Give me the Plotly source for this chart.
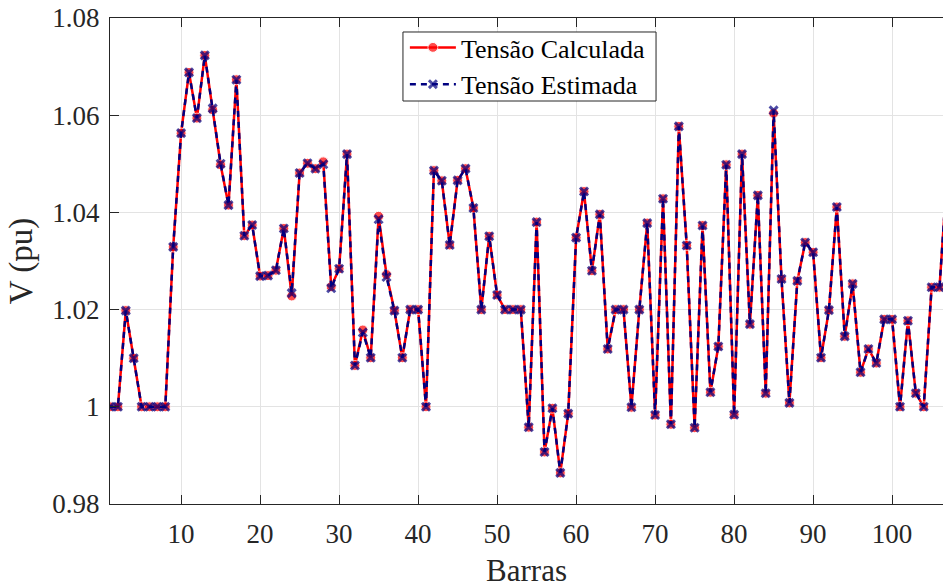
import plotly.graph_objects as go

barras = list(range(1, 108))

tensao_calculada = [
    1.0000, 1.0000, 1.0198, 1.0100, 1.0000, 1.0000, 1.0000, 1.0000, 1.0329, 1.0563,
    1.0688, 1.0594, 1.0723, 1.0611, 1.0498, 1.0415, 1.0673, 1.0352, 1.0374, 1.0269,
    1.0270, 1.0281, 1.0367, 1.0228, 1.0481, 1.0501, 1.0490, 1.0504, 1.0247, 1.0284,
    1.0520, 1.0085, 1.0158, 1.0101, 1.0392, 1.0272, 1.0198, 1.0101, 1.0200, 1.0200,
    1.0000, 1.0486, 1.0465, 1.0333, 1.0466, 1.0490, 1.0409, 1.0200, 1.0351, 1.0230,
    1.0200, 1.0200, 1.0200, 0.9958, 1.0380, 0.9907, 0.9997, 0.9864, 0.9986, 1.0348,
    1.0443, 1.0280, 1.0396, 1.0119, 1.0200, 1.0200, 0.9999, 1.0200, 1.0378, 0.9983,
    1.0428, 0.9964, 1.0577, 1.0332, 0.9957, 1.0373, 1.0030, 1.0124, 1.0498, 0.9984,
    1.0520, 1.0170, 1.0435, 1.0028, 1.0604, 1.0263, 1.0008, 1.0259, 1.0338, 1.0318,
    1.0101, 1.0199, 1.0411, 1.0145, 1.0253, 1.0071, 1.0119, 1.0090, 1.0180, 1.0180,
    1.0000, 1.0177, 1.0028, 1.0000, 1.0246, 1.0246, 1.0490,
]

tensao_estimada = [
    1.0000, 1.0000, 1.0198, 1.0100, 1.0000, 1.0000, 1.0000, 1.0000, 1.0329, 1.0563,
    1.0688, 1.0594, 1.0723, 1.0614, 1.0500, 1.0415, 1.0673, 1.0352, 1.0374, 1.0269,
    1.0270, 1.0281, 1.0367, 1.0234, 1.0481, 1.0501, 1.0490, 1.0499, 1.0244, 1.0284,
    1.0520, 1.0085, 1.0153, 1.0101, 1.0386, 1.0267, 1.0198, 1.0101, 1.0200, 1.0200,
    1.0000, 1.0486, 1.0465, 1.0333, 1.0466, 1.0490, 1.0409, 1.0200, 1.0351, 1.0230,
    1.0200, 1.0200, 1.0200, 0.9958, 1.0380, 0.9907, 0.9997, 0.9864, 0.9986, 1.0348,
    1.0443, 1.0280, 1.0396, 1.0119, 1.0200, 1.0200, 0.9999, 1.0200, 1.0378, 0.9983,
    1.0428, 0.9964, 1.0577, 1.0332, 0.9957, 1.0373, 1.0030, 1.0124, 1.0498, 0.9984,
    1.0520, 1.0170, 1.0435, 1.0028, 1.0610, 1.0263, 1.0008, 1.0259, 1.0338, 1.0318,
    1.0101, 1.0199, 1.0411, 1.0145, 1.0253, 1.0071, 1.0119, 1.0090, 1.0180, 1.0180,
    1.0000, 1.0177, 1.0028, 1.0000, 1.0246, 1.0246, 1.0490,
]

x_ticks = [10, 20, 30, 40, 50, 60, 70, 80, 90, 100]
y_ticks = [0.98, 1.00, 1.02, 1.04, 1.06, 1.08]
y_tick_labels = ["0.98", "1", "1.02", "1.04", "1.06", "1.08"]

FONT = "Liberation Serif, Times New Roman, serif"
AXC = "#262626"
GRID = "#e3e3e3"
X_MAX = 106.44

# markers only for buses inside the visible window (the last bus lies past the cropped edge)
size_calc = [10 if b <= X_MAX else 0 for b in barras]
size_est = [8 if b <= X_MAX else 0 for b in barras]

fig = go.Figure()
fig.add_trace(go.Scatter(
    x=barras, y=tensao_calculada, name="Tensão Calculada",
    mode="lines+markers",
    line=dict(color="#ff0000", width=2.5),
    marker=dict(symbol="circle", size=size_calc, color="#ff0000"),
))
fig.add_trace(go.Scatter(
    x=barras, y=tensao_estimada, name="Tensão Estimada",
    mode="lines+markers",
    line=dict(color="#000080", width=2.5, dash="6px,5px"),
    marker=dict(symbol="x-thin", size=size_est, color="#000080",
                line=dict(color="#000080", width=3)),
))

# legend frame (drawn as a paper-space box behind the borderless legend)
fig.add_shape(
    type="rect", xref="paper", yref="paper",
    x0=0.3517, x1=0.6555, y0=0.8292, y1=0.9712,
    fillcolor="white", line=dict(color=AXC, width=1), layer="above",
)

fig.update_layout(
    width=943, height=588,
    margin=dict(l=110, r=0, t=18, b=84),
    paper_bgcolor="white", plot_bgcolor="white",
    font=dict(family=FONT, size=27, color=AXC),
    showlegend=True,
    legend=dict(
        x=0.354, y=0.9877, xanchor="left", yanchor="top",
        bgcolor="rgba(0,0,0,0)", borderwidth=0,
        font=dict(family=FONT, size=26, color="black"),
        tracegroupgap=0, itemwidth=46,
    ),
    xaxis=dict(
        range=[1, X_MAX], tickvals=x_ticks,
        ticks="inside", ticklen=9, tickcolor=AXC, tickwidth=1,
        showline=True, linecolor=AXC, linewidth=1, mirror="ticks",
        showgrid=True, gridcolor=GRID, gridwidth=1, zeroline=False,
        tickfont=dict(family=FONT, size=27, color=AXC),
        ticklabelstandoff=6,
        title=dict(text="Barras", font=dict(family=FONT, size=31, color=AXC), standoff=12),
    ),
    yaxis=dict(
        range=[0.98, 1.08], tickvals=y_ticks, ticktext=y_tick_labels,
        ticks="inside", ticklen=9, tickcolor=AXC, tickwidth=1,
        showline=True, linecolor=AXC, linewidth=1, mirror=False,
        showgrid=True, gridcolor=GRID, gridwidth=1, zeroline=False,
        tickfont=dict(family=FONT, size=27, color=AXC),
        ticklabelstandoff=4,
        title=dict(text="V (pu)", font=dict(family=FONT, size=33, color=AXC), standoff=9),
    ),
    yaxis2=dict(
        overlaying="y", side="right", range=[0.98, 1.08], tickvals=y_ticks,
        ticks="inside", ticklen=3, tickcolor=AXC, showticklabels=False,
        showline=False, showgrid=False, zeroline=False,
    ),
)

fig.write_html("out.html")
